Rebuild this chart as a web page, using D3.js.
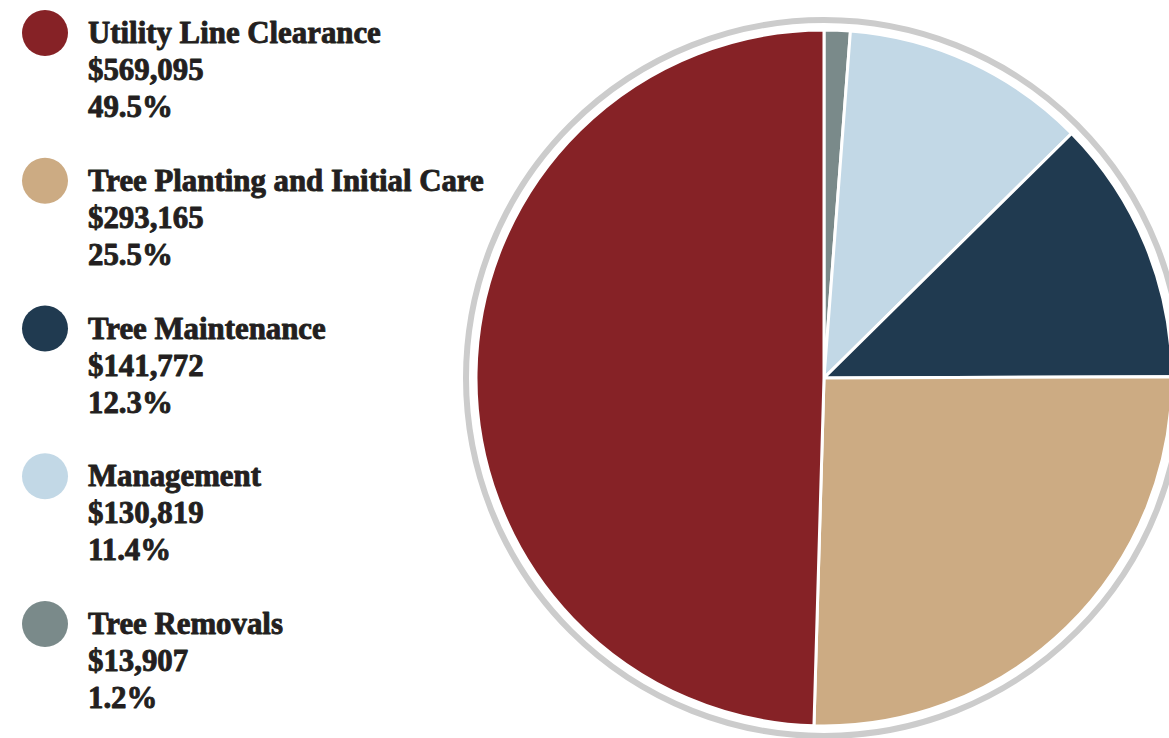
<!DOCTYPE html>
<html>
<head>
<meta charset="utf-8">
<script src="https://cdn.jsdelivr.net/npm/d3@7"></script>
<style>
  html, body { margin: 0; padding: 0; background: #fff; overflow: hidden; }
  svg { display: block; }
  .lg { font-family: "Liberation Serif", "DejaVu Serif", serif; font-weight: 700; fill: #231f20;
        stroke: #231f20; stroke-width: 0.9px; stroke-linejoin: round; }
</style>
</head>
<body>
<svg id="chart" width="1169" height="738"></svg>
<script>
// Urban forestry spending by category
const categories = ["Utility Line Clearance", "Tree Planting and Initial Care", "Tree Maintenance", "Management", "Tree Removals"];
const amounts = [569095, 293165, 141772, 130819, 13907];
const amountLabels = ["$569,095", "$293,165", "$141,772", "$130,819", "$13,907"];
const percentLabels = ["49.5%", "25.5%", "12.3%", "11.4%", "1.2%"];
const colors = ["#862226", "#ccab83", "#203a50", "#c2d8e6", "#7a8a8a"];

// clockwise order of the slices, starting at twelve o'clock
const sliceOrder = [4, 3, 2, 1, 0];

const svg = d3.select("#chart");

const cx = 824, cy = 378, R = 348, ringR = 358;

const color = d3.scaleOrdinal().domain(categories).range(colors);

const pie = d3.pie()
  .value(i => amounts[i])
  .sort(null)
  .startAngle(0)
  .endAngle(2 * Math.PI);

const arc = d3.arc().innerRadius(0).outerRadius(R);

const g = svg.append("g").attr("transform", `translate(${cx},${cy})`);

g.append("circle")
  .attr("r", ringR)
  .attr("fill", "none")
  .attr("stroke", "#cccccc")
  .attr("stroke-width", 6);

g.selectAll("path.slice")
  .data(pie(sliceOrder))
  .join("path")
  .attr("class", "slice")
  .attr("d", arc)
  .attr("fill", d => color(categories[d.data]))
  .attr("stroke", "#ffffff")
  .attr("stroke-width", 3)
  .attr("stroke-linejoin", "miter");

// Legend
const legendY = d3.scalePoint().domain(categories).range([33, 624]);
const lineGap = 37;

const items = svg.selectAll("g.item")
  .data(categories)
  .join("g")
  .attr("class", "item")
  .attr("transform", d => `translate(0,${legendY(d)})`);

items.append("circle")
  .attr("cx", 45)
  .attr("cy", 0)
  .attr("r", 23)
  .attr("fill", d => color(d));

const textLines = items.append("text")
  .attr("class", "lg")
  .attr("x", 88)
  .attr("y", 10);

textLines.append("tspan").attr("x", 88).attr("dy", 0).text(d => d);
textLines.append("tspan").attr("x", 88).attr("dy", lineGap).text((d, i) => amountLabels[i]);
textLines.append("tspan").attr("x", 88).attr("dy", lineGap).text((d, i) => percentLabels[i]);

// size the legend type so the longest title spans its intended width
textLines.style("font-size", "28px");
const probe = textLines.filter((d, i) => i === 0).select("tspan").node();
const w = probe.getComputedTextLength();
const fs = 28 * 293 / w;
textLines.style("font-size", Math.min(fs, 31) + "px");
</script>
</body>
</html>
